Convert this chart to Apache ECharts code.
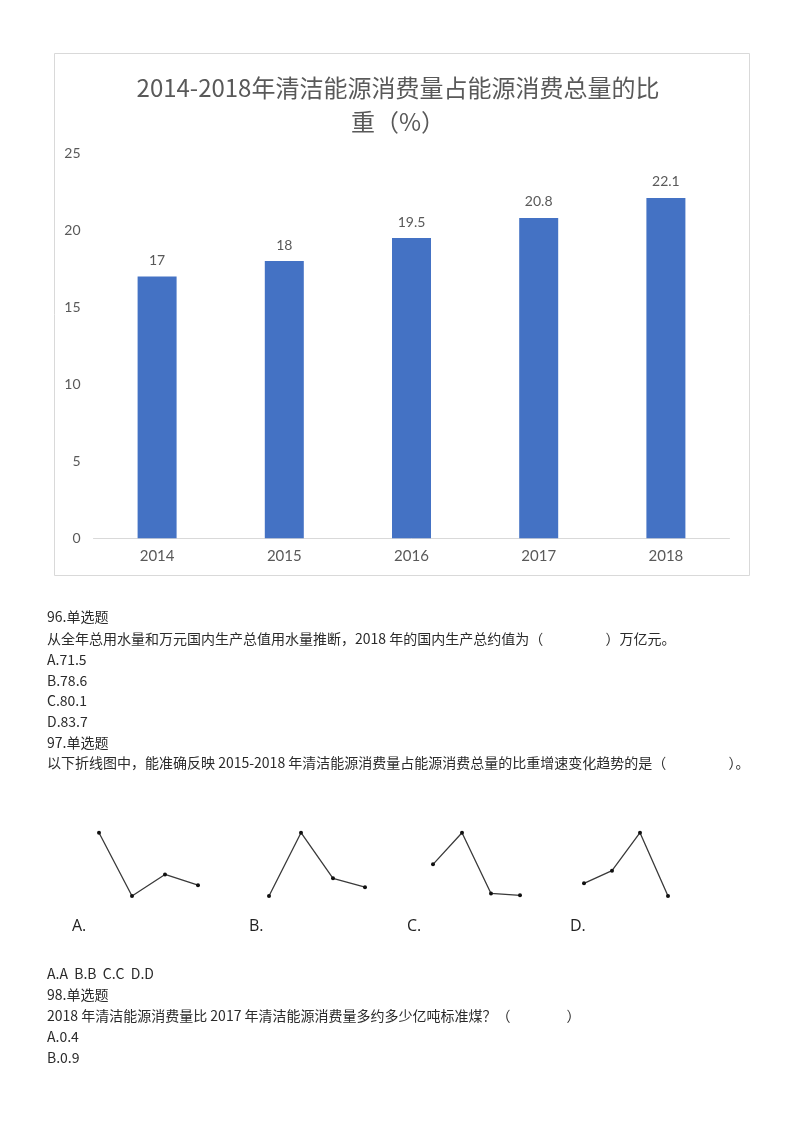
<!DOCTYPE html>
<html><head><meta charset="utf-8">
<script src="https://cdn.jsdelivr.net/npm/echarts@6/dist/echarts.min.js"></script>
<style>html,body{margin:0;padding:0;background:#fff}#c{width:800px;height:1132px}</style>
</head><body><div id="c"></div>
<script>
// ---- data ----
const years = ['2014', '2015', '2016', '2017', '2018'];
const shares = [17, 18, 19.5, 20.8, 22.1];
const yTicks = [0, 5, 10, 15, 20, 25];
const chartTitle = '2014-2018年清洁能源消费量占能源消费总量的比\n重（%）';
const optionLabels = ['A.', 'B.', 'C.', 'D.'];
const shapeA = [10, 0, 3.4, 1.7];
const shapeB = [0, 10, 2.8, 1.4];
const shapeC = [5, 10, 0.4, 0.1];
const shapeD = [2, 4, 10, 0];
const questionLinesTop = [
  '96.单选题',
  '从全年总用水量和万元国内生产总值用水量推断，2018 年的国内生产总约值为（　　　　  ）万亿元。',
  'A.71.5',
  'B.78.6',
  'C.80.1',
  'D.83.7',
  '97.单选题',
  '以下折线图中，能准确反映 2015-2018 年清洁能源消费量占能源消费总量的比重增速变化趋势的是（　　　　  ）。'
];
const questionLinesBottom = [
  'A.A  B.B  C.C  D.D',
  '98.单选题',
  '2018 年清洁能源消费量比 2017 年清洁能源消费量多约多少亿吨标准煤？（　　　　）',
  'A.0.4',
  'B.0.9'
];

// ---- layout ----
const CJK = '"Noto Sans CJK SC", "Noto Sans", sans-serif';
const LAT = 'Lato, "Noto Sans CJK SC", sans-serif';
const shapes = [shapeA, shapeB, shapeC, shapeD];
const miniGrids = [
  {left: 99, width: 99},
  {left: 269, width: 96},
  {left: 433, width: 87},
  {left: 584, width: 84}
];
const miniLabelX = [72, 249, 407, 570];
const topLineY = [617, 638.5, 660, 680.5, 701, 721.5, 742.5, 763];
const bottomLineY = [974, 995, 1016, 1037, 1058];

const grids = [{left: 93.5, right: 70.5, top: 153.3, height: 385}];
const xAxes = [{
  gridIndex: 0, type: 'category', data: years,
  axisLine: {lineStyle: {color: '#d9d9d9', width: 1}},
  axisTick: {show: false},
  axisLabel: {color: '#595959', fontSize: 15, margin: 10, fontFamily: LAT}
}];
const yAxes = [{
  gridIndex: 0, type: 'value', min: yTicks[0], max: yTicks[yTicks.length - 1], interval: yTicks[1] - yTicks[0],
  axisLine: {show: false}, axisTick: {show: false}, splitLine: {show: false},
  axisLabel: {color: '#595959', fontSize: 14, margin: 13, fontFamily: LAT}
}];
const series = [{
  type: 'bar', xAxisIndex: 0, yAxisIndex: 0, data: shares, barWidth: 39,
  itemStyle: {color: '#4472C4'},
  label: {show: true, position: 'top', distance: 9, color: '#595959', fontSize: 14, fontFamily: LAT}
}];

shapes.forEach((s, i) => {
  const g = i + 1;
  grids.push({left: miniGrids[i].left, width: miniGrids[i].width, top: 832.7, height: 63.3});
  xAxes.push({gridIndex: g, type: 'value', min: 0, max: s.length - 1, show: false});
  yAxes.push({gridIndex: g, type: 'value', min: 0, max: 10, show: false});
  series.push({
    type: 'line', xAxisIndex: g, yAxisIndex: g,
    data: s.map((v, k) => [k, v]),
    symbol: 'circle', symbolSize: 4, silent: true,
    lineStyle: {color: '#3a3a3a', width: 1.3},
    itemStyle: {color: '#111'}
  });
});

const graphics = [{
  type: 'rect', shape: {x: 54.5, y: 53.5, width: 695, height: 522},
  style: {fill: 'none', stroke: '#d9d9d9', lineWidth: 1}, silent: true
}];
questionLinesTop.forEach((t, i) => graphics.push({
  type: 'text', x: 47, y: topLineY[i],
  style: {text: t, fill: '#2b2b2b', font: '14px ' + CJK, textVerticalAlign: 'middle', textAlign: 'left'}
}));
questionLinesBottom.forEach((t, i) => graphics.push({
  type: 'text', x: 47, y: bottomLineY[i],
  style: {text: t, fill: '#2b2b2b', font: '14px ' + CJK, textVerticalAlign: 'middle', textAlign: 'left'}
}));
optionLabels.forEach((t, i) => graphics.push({
  type: 'text', x: miniLabelX[i], y: 926,
  style: {text: t, fill: '#222', font: '16px "Open Sans", sans-serif', textVerticalAlign: 'middle', textAlign: 'left'}
}));

const chart = echarts.init(document.getElementById('c'), null, {renderer: 'canvas'});
chart.setOption({
  animation: false,
  backgroundColor: '#fff',
  title: {
    text: chartTitle, left: 393, top: 66, textAlign: 'center',
    textStyle: {fontSize: 24, fontWeight: 'normal', color: '#595959', lineHeight: 34, fontFamily: CJK}
  },
  grid: grids,
  xAxis: xAxes,
  yAxis: yAxes,
  series: series,
  graphic: graphics
});
</script>
</body></html>
